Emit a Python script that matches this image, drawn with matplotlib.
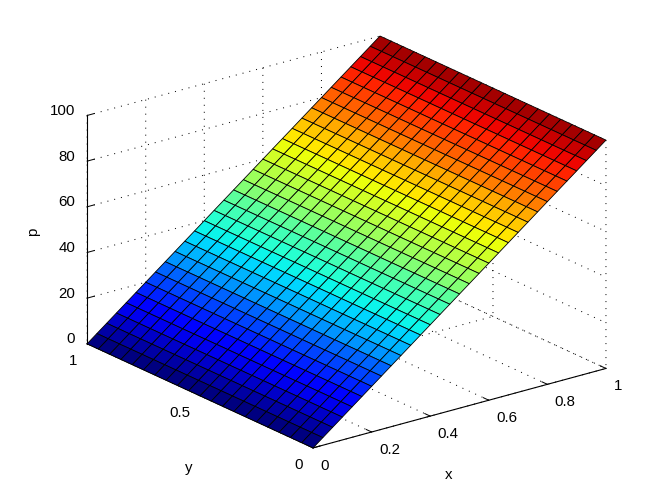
import numpy as np
import matplotlib
matplotlib.use("Agg")
import matplotlib.pyplot as plt

plt.rcParams["font.family"] = ["Liberation Sans", "DejaVu Sans"]

x_vals = [0.0, 0.0333, 0.0667, 0.1, 0.1333, 0.1667, 0.2, 0.2333, 0.2667, 0.3, 0.3333,
          0.3667, 0.4, 0.4333, 0.4667, 0.5, 0.5333, 0.5667, 0.6, 0.6333, 0.6667,
          0.7, 0.7333, 0.7667, 0.8, 0.8333, 0.8667, 0.9, 0.9333, 0.9667, 1.0]
y_vals = [0.0, 0.05, 0.1, 0.15, 0.2, 0.25, 0.3, 0.35, 0.4, 0.45, 0.5,
          0.55, 0.6, 0.65, 0.7, 0.75, 0.8, 0.85, 0.9, 0.95, 1.0]
p_along_x = [0.0, 3.33, 6.67, 10.0, 13.33, 16.67, 20.0, 23.33, 26.67, 30.0, 33.33,
             36.67, 40.0, 43.33, 46.67, 50.0, 53.33, 56.67, 60.0, 63.33, 66.67,
             70.0, 73.33, 76.67, 80.0, 83.33, 86.67, 90.0, 93.33, 96.67, 100.0]

x_ticks = [0, 0.2, 0.4, 0.6, 0.8, 1]
x_ticklabels = ["0", "0.2", "0.4", "0.6", "0.8", "1"]
y_ticks = [0, 0.5, 1]
y_ticklabels = ["0", "0.5", "1"]
p_ticks = [0, 20, 40, 60, 80, 100]

W, H = 672, 504
fig = plt.figure(figsize=(W / 100, H / 100), dpi=100)
ax = fig.add_axes([105.2 / W, 20.7 / H, 470 / W, 470 / H], projection="3d", proj_type="ortho")
ax.view_init(elev=20.7, azim=-127.5)
ax.set_box_aspect((369, 371, 244), zoom=1.193)

X, Y = np.meshgrid(x_vals, y_vals)
P = np.tile(p_along_x, (len(y_vals), 1))
cmap = plt.get_cmap("jet", 64)
colors = cmap(P / 100.0)
surf = ax.plot_surface(X, Y, P, facecolors=colors, rstride=1, cstride=1, shade=False,
                       linewidth=0.6, antialiased=True)
surf.set_edgecolor("k")
surf.set_clip_on(False)

ax.set_xlim(0, 1, view_margin=0)
ax.set_ylim(0, 1, view_margin=0)
ax.set_zlim(0, 100, view_margin=0)
ax.set_xticks(x_ticks, x_ticklabels)
ax.set_yticks(y_ticks, y_ticklabels)
ax.set_zticks(p_ticks)

for axis in (ax.xaxis, ax.yaxis, ax.zaxis):
    axis.set_pane_color((1, 1, 1, 0))
    axis.pane.set_edgecolor("none")
    axis.line.set_color("k")
    axis.line.set_linewidth(0.8)
    axis._axinfo["grid"].update(color="k", linewidth=0.72, linestyle=(0, (1, 6)))
    axis._axinfo["tick"].update(inward_factor=0.0, outward_factor=0.3, linewidth={True: 0.72, False: 0.5})

ax.tick_params(axis="x", labelsize=10.8, pad=-2.2)
ax.tick_params(axis="y", labelsize=10.8, pad=-2)
ax.tick_params(axis="z", labelsize=10.8, pad=-4)
for t in ax.get_xticklabels():
    t.set_ha("left")
for t in ax.get_yticklabels():
    t.set_ha("right")
for t in ax.get_zticklabels():
    t.set_ha("right")
    t.set_va("baseline")

# labels sit off the axis midpoints in the original, so place them by pixel
fig.text(449 / W, 1 - 475 / H, "x", fontsize=10.8, ha="center", va="center")
fig.text(189 / W, 1 - 468 / H, "y", fontsize=10.8, ha="center", va="center")
fig.text(33 / W, 1 - 232 / H, "p", fontsize=10.8, rotation=90, ha="center", va="center")

fig.savefig("out.png", dpi=100)
